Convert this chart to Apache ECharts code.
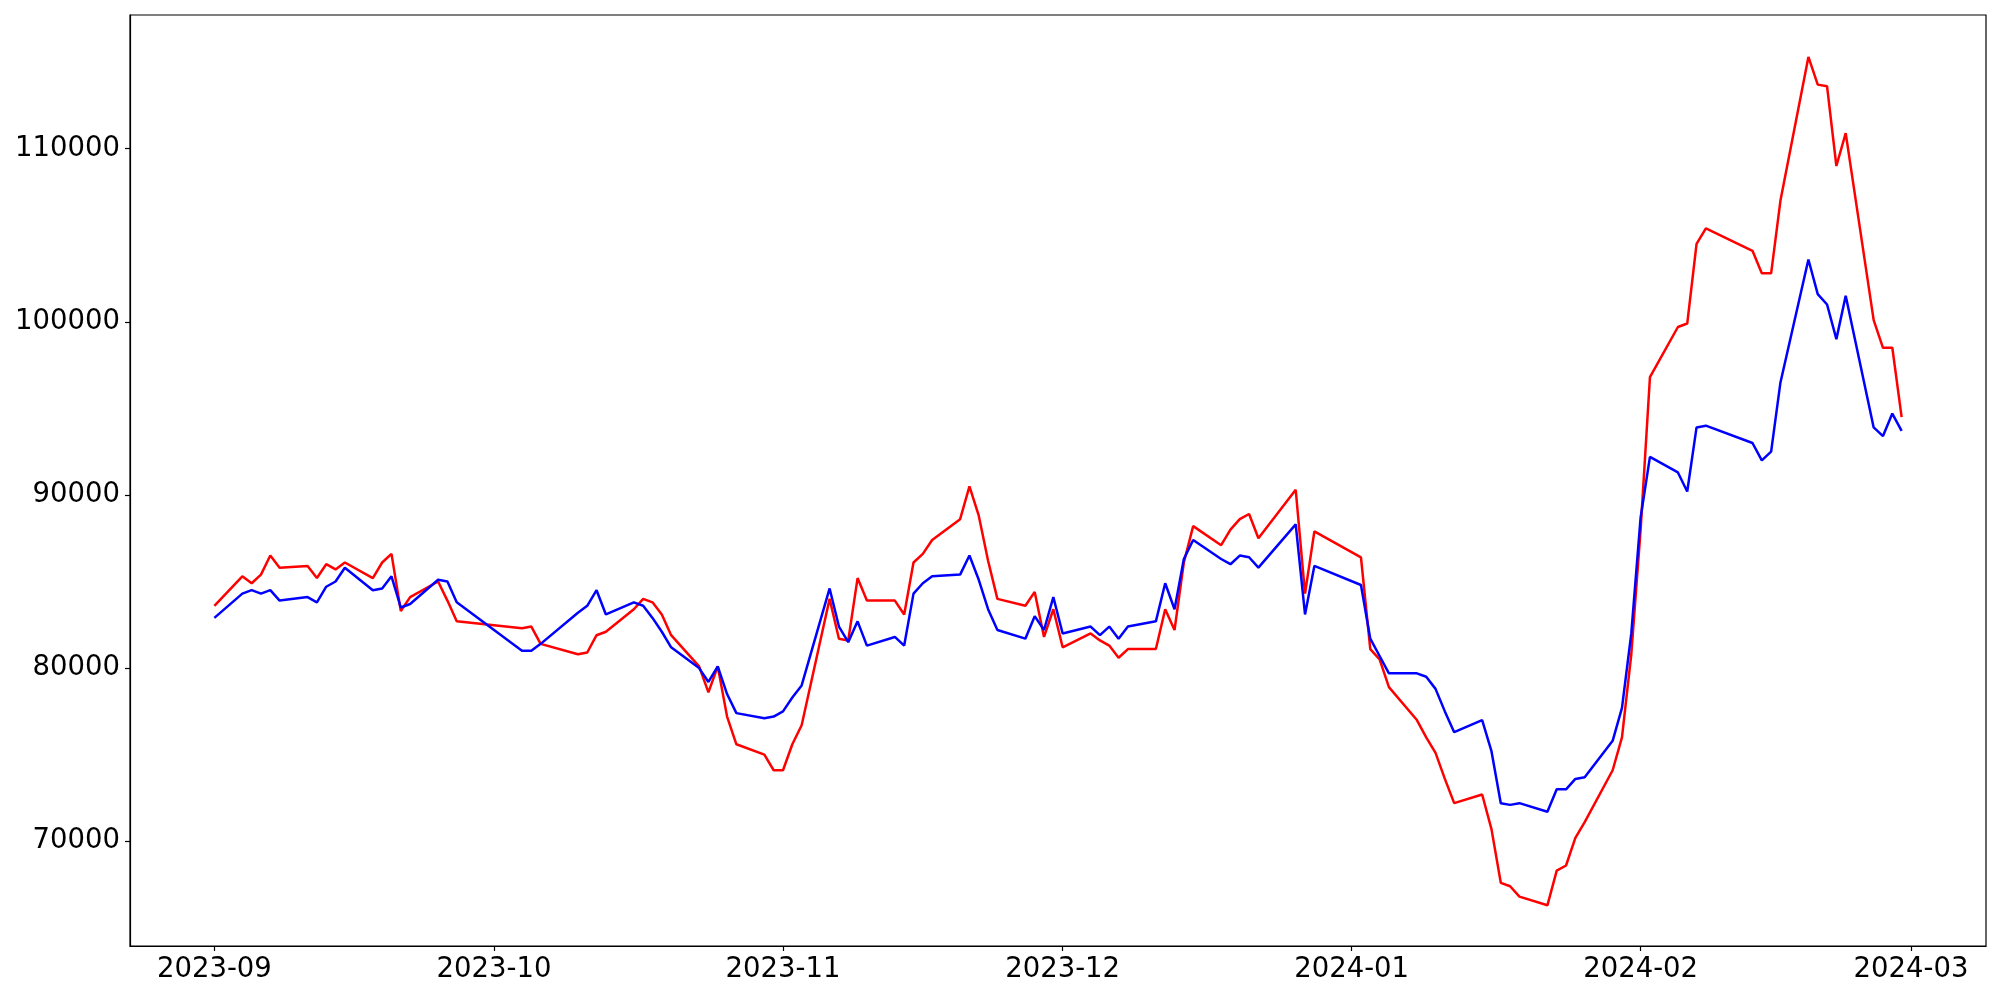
<!DOCTYPE html>
<html>
<head>
<meta charset="utf-8">
<script src="https://cdn.jsdelivr.net/npm/echarts@6/dist/echarts.min.js"></script>
<style>
html,body{margin:0;padding:0;background:#fff;}
#chart{width:2000px;height:1000px;}
</style>
</head>
<body>
<div id="chart"></div>
<script>
// Trading dates (categories)
var dates = [
'2023-09-01','2023-09-04','2023-09-05','2023-09-06','2023-09-07','2023-09-08',
'2023-09-11','2023-09-12','2023-09-13','2023-09-14','2023-09-15',
'2023-09-18','2023-09-19','2023-09-20','2023-09-21','2023-09-22',
'2023-09-25','2023-09-26','2023-09-27',
'2023-10-04','2023-10-05','2023-10-06',
'2023-10-10','2023-10-11','2023-10-12','2023-10-13',
'2023-10-16','2023-10-17','2023-10-18','2023-10-19','2023-10-20',
'2023-10-23','2023-10-24','2023-10-25','2023-10-26','2023-10-27',
'2023-10-30','2023-10-31',
'2023-11-01','2023-11-02','2023-11-03',
'2023-11-06','2023-11-07','2023-11-08','2023-11-09','2023-11-10',
'2023-11-13','2023-11-14','2023-11-15','2023-11-16','2023-11-17',
'2023-11-20','2023-11-21','2023-11-22','2023-11-23','2023-11-24',
'2023-11-27','2023-11-28','2023-11-29','2023-11-30',
'2023-12-01',
'2023-12-04','2023-12-05','2023-12-06','2023-12-07','2023-12-08',
'2023-12-11','2023-12-12','2023-12-13','2023-12-14','2023-12-15',
'2023-12-18','2023-12-19','2023-12-20','2023-12-21','2023-12-22',
'2023-12-26','2023-12-27','2023-12-28',
'2024-01-02','2024-01-03','2024-01-04','2024-01-05',
'2024-01-08','2024-01-09','2024-01-10','2024-01-11','2024-01-12',
'2024-01-15','2024-01-16','2024-01-17','2024-01-18','2024-01-19',
'2024-01-22','2024-01-23','2024-01-24','2024-01-25','2024-01-26',
'2024-01-29','2024-01-30','2024-01-31',
'2024-02-01','2024-02-02',
'2024-02-05','2024-02-06','2024-02-07','2024-02-08',
'2024-02-13','2024-02-14','2024-02-15','2024-02-16',
'2024-02-19','2024-02-20','2024-02-21','2024-02-22','2024-02-23',
'2024-02-26','2024-02-27','2024-02-28','2024-02-29'
];

// Red series values
var redValues = [
83600,85300,84900,85400,86500,85800,85900,85200,86000,85700,86100,85200,86100,86600,83300,84100,85000,83900,82700,
82300,82400,81400,80800,80900,81900,82100,83400,84000,83800,83100,81900,80100,78600,80100,77200,75600,75000,74100,
74100,75600,76700,84000,81700,81600,85200,83900,83900,83100,86100,86600,87400,88600,90500,88800,86200,84000,83600,84400,81800,83400,
81200,82000,81600,81300,80600,81100,81100,83400,82200,86100,88200,87100,88000,88600,88900,87500,90300,84300,87900,
86400,81100,80500,78900,77000,76000,75100,73600,72200,72700,70700,67600,67400,66800,66300,68300,68600,70200,71100,74100,76000,80800,
88000,96800,99700,99900,104500,105400,104100,102800,102800,107000,115300,113700,113600,109000,110900,100100,98500,98500,94500
];

// Blue series values
var blueValues = [
82900,84300,84500,84300,84500,83900,84100,83800,84700,85000,85800,84500,84600,85300,83500,83700,85100,85000,83800,
81000,81000,81400,83200,83600,84500,83100,83800,83600,82900,82100,81200,80000,79200,80100,78500,77400,77100,77200,
77500,78300,79000,84600,82400,81500,82700,81300,81800,81300,84300,84900,85300,85400,86500,85100,83400,82200,81700,83000,82200,84100,
82000,82400,81900,82400,81700,82400,82700,84900,83400,86300,87400,86300,86000,86500,86400,85800,88300,83100,85900,
84800,81700,80700,79700,79700,79500,78800,77500,76300,77000,75200,72200,72100,72200,71700,73000,73000,73600,73700,75800,77700,82000,
88700,92200,91300,90200,93900,94000,93000,92000,92500,96500,103600,101600,101000,99000,101500,93900,93400,94700,93700
];

// Tick labels
var xTickLabels = ['2023-09','2023-10','2023-11','2023-12','2024-01','2024-02','2024-03'];
var yTickValues = [70000, 80000, 90000, 100000, 110000];

function ts(s){
  var p = s.split('-').map(Number);
  return Date.UTC(p[0], p[1]-1, p[2] || 1);
}
var firstT = ts(dates[0]), lastT = ts(dates[dates.length-1]);
var pad = (lastT - firstT) * 0.05;
var xMin = firstT - pad, xMax = lastT + pad;
var xTicks = xTickLabels.map(function(s){ return ts(s + '-01'); });

var redData = dates.map(function(d,i){ return [ts(d), redValues[i]]; });
var blueData = dates.map(function(d,i){ return [ts(d), blueValues[i]]; });

var FONT = 'DejaVu Sans';
var FS = 27.5;

function fmtMonth(v){
  var d = new Date(v);
  var m = d.getUTCMonth()+1;
  return d.getUTCFullYear() + '-' + (m<10?'0':'') + m;
}

var chart = echarts.init(document.getElementById('chart'), null, {renderer:'canvas'});
chart.setOption({
  animation: false,
  backgroundColor: '#fff',
  grid: {left:130, top:15, width:1856, height:931, show:true, borderColor:'#000', borderWidth:1.2, backgroundColor:'transparent'},
  xAxis: {
    type: 'value',
    min: xMin, max: xMax,
    scale: true,
    axisLine: {show:true, onZero:false, lineStyle:{color:'#000', width:1.2}},
    axisTick: {show:true, length:5, lineStyle:{color:'#000', width:1.2}, customValues: xTicks},
    axisLabel: {show:true, margin:10, color:'#000', fontFamily:FONT, fontSize:FS, customValues: xTicks, formatter: fmtMonth},
    splitLine: {show:false}
  },
  yAxis: {
    type: 'value',
    min: 63950, max: 117720,
    axisLine: {show:true, lineStyle:{color:'#000', width:1.2}},
    axisTick: {show:true, length:5, lineStyle:{color:'#000', width:1.2}, customValues: yTickValues},
    axisLabel: {show:true, margin:10, color:'#000', fontFamily:FONT, fontSize:FS, customValues: yTickValues,
      formatter: function(v){ return String(Math.round(v)); }},
    splitLine: {show:false}
  },
  series: [
    {type:'line', data: redData, showSymbol:false, symbol:'none', lineStyle:{color:'#ff0000', width:2.5}, itemStyle:{color:'#ff0000'}, emphasis:{disabled:true}, z:2},
    {type:'line', data: blueData, showSymbol:false, symbol:'none', lineStyle:{color:'#0000ff', width:2.5}, itemStyle:{color:'#0000ff'}, emphasis:{disabled:true}, z:3}
  ]
});
</script>
</body>
</html>
